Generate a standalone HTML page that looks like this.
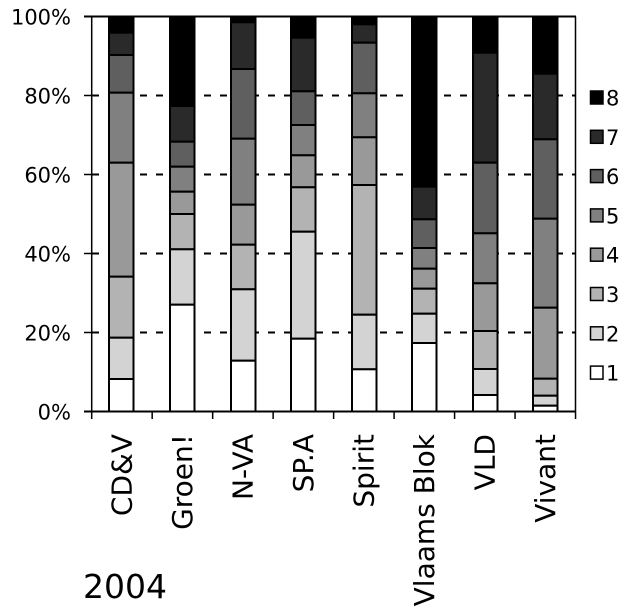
<!DOCTYPE html>
<html><head><meta charset="utf-8"><style>
html,body{margin:0;padding:0;background:#fff;}
svg{display:block;font-family:"DejaVu Sans","Liberation Sans",sans-serif;}
</style></head><body>
<svg width="631" height="614" viewBox="0 0 631 614" xmlns="http://www.w3.org/2000/svg">
<g id="grid" stroke="#000" stroke-width="2" stroke-dasharray="7,9">
<line x1="92" y1="95.5" x2="575" y2="95.5"/>
<line x1="92" y1="174.5" x2="575" y2="174.5"/>
<line x1="92" y1="253.5" x2="575" y2="253.5"/>
<line x1="92" y1="332.5" x2="575" y2="332.5"/>
</g>
<g id="bars"></g>
<g stroke="#000" stroke-width="1.5" fill="none">
<line x1="91.7" y1="16.5" x2="91.7" y2="411.5"/>
<line x1="575.5" y1="16.5" x2="575.5" y2="411.5"/>
<line x1="84" y1="16.5" x2="576" y2="16.5" stroke-width="2"/>
<line x1="84" y1="411.5" x2="576" y2="411.5" stroke-width="2"/>
<line x1="84" y1="95.5" x2="92" y2="95.5"/>
<line x1="84" y1="174.5" x2="92" y2="174.5"/>
<line x1="84" y1="253.5" x2="92" y2="253.5"/>
<line x1="84" y1="332.5" x2="92" y2="332.5"/>
</g>
<g id="xt" stroke="#000" stroke-width="1.5"></g>
<g font-size="21" text-anchor="end" fill="#000">
<text x="71" y="24.5">100%</text>
<text x="71" y="103.5">80%</text>
<text x="71" y="182.5">60%</text>
<text x="71" y="261.5">40%</text>
<text x="71" y="340.5">20%</text>
<text x="71" y="419.5">0%</text>
</g>
<g id="legend" font-size="21"></g>
<g font-size="28" text-anchor="end" fill="#000">
<text transform="translate(131.5,434) rotate(-90)">CD&amp;V</text>
<text transform="translate(192,434) rotate(-90)">Groen!</text>
<text transform="translate(252.5,434) rotate(-90)">N-VA</text>
<text transform="translate(313,434) rotate(-90)">SP.A</text>
<text transform="translate(373.5,434) rotate(-90)">Spirit</text>
<text transform="translate(434,434) rotate(-90)">Vlaams Blok</text>
<text transform="translate(494.5,434) rotate(-90)">VLD</text>
<text transform="translate(555,434) rotate(-90)">Vivant</text>
</g>
<text x="83" y="598" font-size="33">2004</text>
<script>
var NS="http://www.w3.org/2000/svg";
var cols=["#000","#2a2a2a","#5f5f5f","#808080","#999","#b3b3b3","#d3d3d3","#fff"];
var xs=[109,170,231,291,352,412,473,533];
var d=[[32.7,55,92.7,162.7,276.7,337.7,379],
[106,141.7,166.7,191.7,214,249.3,304.7],
[22.3,69,138.7,204.7,244.7,289.3,360.7],
[37.7,91.3,125,155.3,187.3,231.7,338.7],
[24.3,42.7,93.3,137.3,185,314.7,369.3],
[186.7,219.3,248,268.7,288.7,313.7,343],
[52.7,162.7,233.3,283.3,331,369,395],
[73.7,139.3,218.7,307.7,378.7,395.7,405.7]];
var g=document.getElementById("bars");
for(var i=0;i<8;i++){var b=[16.5].concat(d[i]).concat([411.5]);
for(var k=0;k<8;k++){var r=document.createElementNS(NS,"rect");
r.setAttribute("x",xs[i]);r.setAttribute("y",b[k]);r.setAttribute("width",24.5);
r.setAttribute("height",b[k+1]-b[k]);r.setAttribute("fill",cols[k]);
r.setAttribute("stroke","#000");r.setAttribute("stroke-width","2");g.appendChild(r);}}
var xt=document.getElementById("xt");
for(var j=0;j<=8;j++){var x=91.7+j*60.48;var l=document.createElementNS(NS,"line");
l.setAttribute("x1",x);l.setAttribute("x2",x);l.setAttribute("y1",411.5);l.setAttribute("y2",419);xt.appendChild(l);}
var lg=document.getElementById("legend");
for(var k=0;k<8;k++){var y=98+k*39.3;
var r=document.createElementNS(NS,"rect");r.setAttribute("x",590.5);r.setAttribute("y",y-7);
r.setAttribute("width",12.5);r.setAttribute("height",13);r.setAttribute("fill",cols[k]);
r.setAttribute("stroke","#000");r.setAttribute("stroke-width","1.5");lg.appendChild(r);
var t=document.createElementNS(NS,"text");t.setAttribute("x",606);t.setAttribute("y",y+7.5);
t.textContent=String(8-k);lg.appendChild(t);}
</script>
</svg>
</body></html>
